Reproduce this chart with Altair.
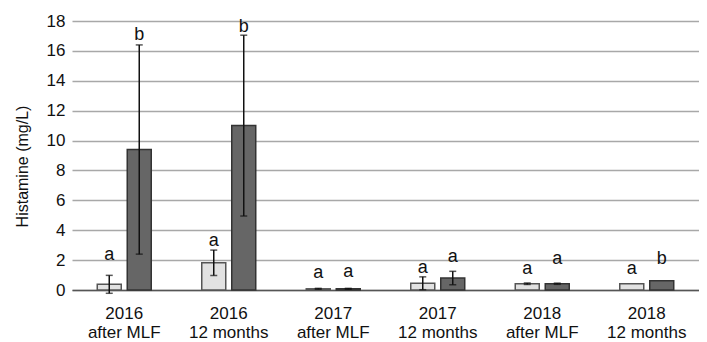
import altair as alt
import pandas as pd

groups = ["2016|after MLF", "2016|12 months", "2017|after MLF",
          "2017|12 months", "2018|after MLF", "2018|12 months"]
series = ["Light", "Dark"]
light_vals = [0.38, 1.82, 0.08, 0.45, 0.42, 0.42]
light_err = [0.60, 0.85, 0.03, 0.43, 0.05, 0.0]
dark_vals = [9.4, 11.0, 0.08, 0.80, 0.42, 0.62]
dark_err = [7.0, 6.05, 0.03, 0.45, 0.04, 0.0]
light_letters = ["a", "a", "a", "a", "a", "a"]
dark_letters = ["b", "b", "a", "a", "a", "b"]
light_label_y = [2.04, 2.93, 0.82, 1.15, 1.10, 1.10]
dark_label_y = [16.72, 17.25, 0.90, 1.86, 1.77, 1.77]
y_ticks = [0, 2, 4, 6, 8, 10, 12, 14, 16, 18]

rows = []
for i, g in enumerate(groups):
    rows.append(dict(group=g, series="Light", value=light_vals[i], err=light_err[i],
                     letter=light_letters[i], ly=light_label_y[i]))
    rows.append(dict(group=g, series="Dark", value=dark_vals[i], err=dark_err[i],
                     letter=dark_letters[i], ly=dark_label_y[i]))
df = pd.DataFrame(rows)
df["lo"] = df["value"] - df["err"]
df["hi"] = df["value"] + df["err"]

FONT = "Liberation Sans"

x_axis = alt.Axis(labelExpr="split(datum.label, '|')", labelAngle=0,
                  ticks=False, domainColor="#555", domainWidth=1.5,
                  labelFontSize=17, labelLineHeight=19, labelPadding=15,
                  labelColor="#111", grid=False, title=None)
y_axis = alt.Axis(values=y_ticks, labelOverlap=False,
                  domain=False, ticks=False, grid=True,
                  gridColor="#a8a8a8", gridWidth=1.5, labelFontSize=17,
                  labelPadding=7, labelColor="#111", title="Histamine (mg/L)",
                  titleFontSize=16, titleFontWeight="normal", titleColor="#111",
                  titleX=-50, titleY=145, titleAngle=-90,
                  titleAlign="center", titleBaseline="middle")
x_scale = alt.Scale(paddingInner=0, paddingOuter=0)
y_scale = alt.Scale(domain=[0, 18], nice=False)


def X():
    return alt.X("group:N", sort=groups, scale=x_scale, axis=x_axis, title=None)


def Y(field):
    return alt.Y(field, scale=y_scale, axis=y_axis, title="Histamine (mg/L)")


xo_enc = alt.XOffset("series:N", sort=series,
                     scale=alt.Scale(paddingInner=0.2, paddingOuter=0.842))

base = alt.Chart(df)

bars = base.mark_bar(strokeWidth=1.5).encode(
    x=X(), xOffset=xo_enc, y=Y("value:Q"),
    fill=alt.Fill("series:N", scale=alt.Scale(domain=series, range=["#e2e2e2", "#666666"]),
                  legend=None),
    stroke=alt.Stroke("series:N", scale=alt.Scale(domain=series, range=["#555555", "#333333"]),
                      legend=None),
)

errdf = base.transform_filter("datum.err > 0")
rules = errdf.mark_rule(color="#111", strokeWidth=1.5).encode(
    x=X(), xOffset=xo_enc, y=Y("lo:Q"), y2="hi:Q")
cap_hi = errdf.mark_tick(color="#111", size=7, thickness=1.5).encode(
    x=X(), xOffset=xo_enc, y=Y("hi:Q"))
cap_lo = errdf.mark_tick(color="#111", size=7, thickness=1.5).encode(
    x=X(), xOffset=xo_enc, y=Y("lo:Q"))

letters = base.mark_text(fontSize=18, baseline="alphabetic", color="#111", font=FONT).encode(
    x=X(), xOffset=xo_enc, y=Y("ly:Q"), text="letter:N")

chart = alt.layer(bars, rules, cap_hi, cap_lo, letters).properties(
    width=627, height=269,
    autosize=alt.AutoSizeParams(type="none"),
    padding={"left": 64, "top": 13, "right": 0, "bottom": 50},
).configure(font=FONT).configure_view(stroke=None)

chart.save("out.html", embed_options={"renderer": "svg", "actions": False})
